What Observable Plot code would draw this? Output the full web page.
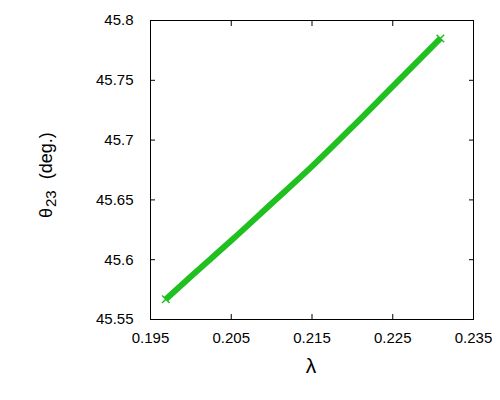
<!DOCTYPE html>
<html>
<head>
<meta charset="utf-8">
<script src="https://cdn.jsdelivr.net/npm/d3@7"></script>
<script src="https://cdn.jsdelivr.net/npm/@observablehq/plot@0.6"></script>
<style>
  html, body { margin: 0; padding: 0; background: #fff; }
  svg { font-family: "Liberation Sans", Arial, sans-serif; }
</style>
</head>
<body>
<div id="chart"></div>
<script>
const lambda = [0.1969, 0.200, 0.205, 0.210, 0.215, 0.220, 0.225, 0.2309];
const theta23 = [45.567, 45.586, 45.616, 45.647, 45.678, 45.711, 45.745, 45.785];
const xTicks = [0.195, 0.205, 0.215, 0.225, 0.235];
const yTicks = [45.55, 45.6, 45.65, 45.7, 45.75, 45.8];
const xLabel = "λ";
const yLabelMain = "θ";
const yLabelSub = "23";
const yLabelRest = "(deg.)";

const data = lambda.map((x, i) => ({x, y: theta23[i]}));
const ends = [data[0], data[data.length - 1]];
const fmt = d => String(+d.toFixed(3));
const green = "#1fc01f";

const plot = Plot.plot({
  width: 500,
  height: 400,
  marginLeft: 150,
  marginRight: 27,
  marginTop: 20,
  marginBottom: 81,
  style: {fontFamily: "Liberation Sans, Arial, sans-serif", fontSize: "15px", color: "black", background: "white"},
  x: {domain: [0.195, 0.235]},
  y: {domain: [45.55, 45.8]},
  marks: [
    Plot.line(data, {x: "x", y: "y", stroke: green, strokeWidth: 6, strokeLinecap: "butt", curve: "monotone-x"}),
    Plot.dot(ends, {x: "x", y: "y", symbol: "times", r: 3.5, stroke: green, strokeWidth: 1.5}),
    Plot.axisX({ticks: xTicks, anchor: "bottom", tickSize: 0, tickPadding: 13, tickFormat: fmt, label: null, fill: "black"}),
    Plot.axisY({ticks: yTicks, anchor: "left", tickSize: 0, tickPadding: 17, tickFormat: fmt, label: null, fill: "black"}),
    Plot.axisX({ticks: xTicks, anchor: "bottom", tickSize: -5, tickFormat: () => "", label: null}),
    Plot.axisX({ticks: xTicks, anchor: "top", tickSize: -5, tickFormat: () => "", label: null}),
    Plot.axisY({ticks: yTicks, anchor: "left", tickSize: -5, tickFormat: () => "", label: null}),
    Plot.axisY({ticks: yTicks, anchor: "right", tickSize: -5, tickFormat: () => "", label: null}),
    Plot.frame({stroke: "black", strokeWidth: 1})
  ]
});

const svg = d3.select(plot);
svg.selectAll('g[aria-label$="tick label"]').style("font-size", "15px").style("font-family", "Liberation Sans, Arial, sans-serif");

svg.append("text")
  .attr("x", 311).attr("y", 373)
  .attr("text-anchor", "middle")
  .attr("font-size", 21)
  .attr("fill", "black")
  .text(xLabel);

const yl = svg.append("text")
  .attr("transform", "translate(52,218) rotate(-90)")
  .attr("text-anchor", "start")
  .attr("font-size", 18)
  .attr("fill", "black");
yl.append("tspan").text(yLabelMain);
yl.append("tspan").attr("font-size", 15).attr("dy", 4).attr("dx", 1).text(yLabelSub);
yl.append("tspan").attr("dy", -4).attr("dx", 11).text(yLabelRest);

document.getElementById("chart").appendChild(plot);
</script>
</body>
</html>
